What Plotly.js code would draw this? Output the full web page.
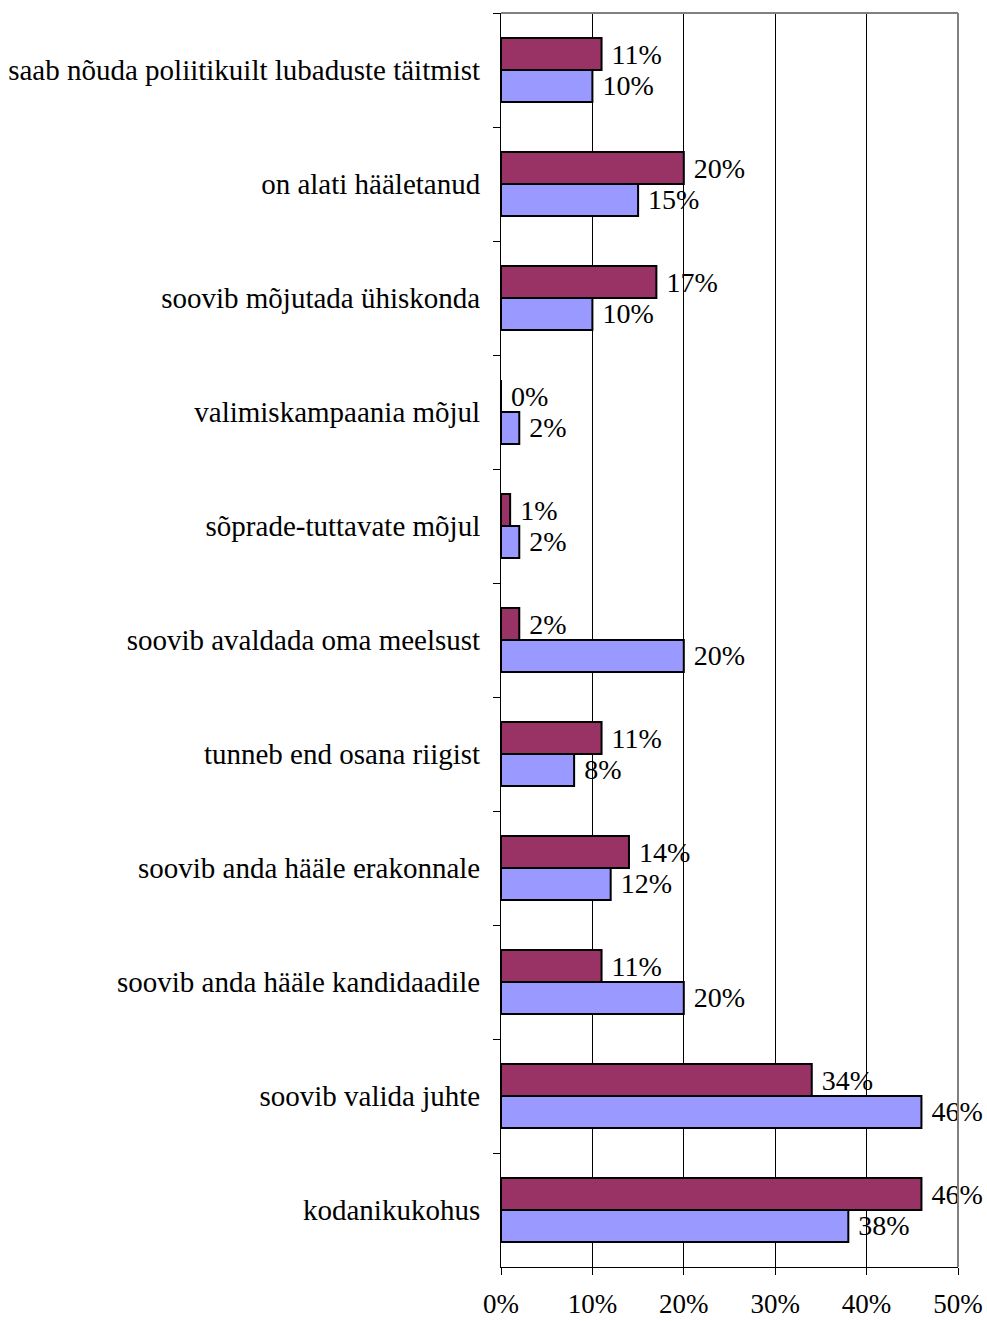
<!DOCTYPE html>
<html>
<head>
<meta charset="utf-8">
<script src="https://cdn.plot.ly/plotly-3.0.1.min.js"></script>
<style>html,body{margin:0;padding:0;background:#fff;}#chart{width:987px;height:1321px;}</style>
</head>
<body>
<div id="chart"></div>
<script>
const categories = [
  "saab nõuda poliitikuilt lubaduste täitmist",
  "on alati hääletanud",
  "soovib mõjutada ühiskonda",
  "valimiskampaania mõjul",
  "sõprade-tuttavate mõjul",
  "soovib avaldada oma meelsust",
  "tunneb end osana riigist",
  "soovib anda hääle erakonnale",
  "soovib anda hääle kandidaadile",
  "soovib valida juhte",
  "kodanikukohus"
];
const seriesA = [11, 20, 17, 0, 1, 2, 11, 14, 11, 34, 46];
const seriesB = [10, 15, 10, 2, 2, 20, 8, 12, 20, 46, 38];
const xTicks = [0, 10, 20, 30, 40, 50];

const FAM = "'Liberation Serif', 'DejaVu Serif', serif";
const font = {family: FAM, size: 28, color: "#000"};
const catFont = {family: FAM, size: 29, color: "#000"};
const tickFontX = {family: FAM, size: 27, color: "#000"};

function barTrace(vals, color) {
  return {
    type: "bar", orientation: "h",
    x: vals, y: categories,
    marker: {color: color, line: {color: "#000", width: 2}},
    text: vals.map(v => "\u00a0" + v + "%"),
    textposition: "outside",
    textfont: font,
    constraintext: "none",
    cliponaxis: false,
    hoverinfo: "skip"
  };
}

const data = [barTrace(seriesA, "#993366"), barTrace(seriesB, "#9999FF")];

const layout = {
  width: 987, height: 1321,
  margin: {l: 501, r: 29, t: 13, b: 54, pad: 0},
  paper_bgcolor: "#fff", plot_bgcolor: "#fff",
  showlegend: false,
  barmode: "group", bargap: 0.44, bargroupgap: 0,
  font: font,
  xaxis: {
    range: [0, 50], tickvals: xTicks, ticktext: xTicks.map(v => v + "%"),
    showgrid: true, gridcolor: "#000", gridwidth: 1,
    zeroline: false, showline: true, linecolor: "#000", linewidth: 1,
    ticks: "outside", ticklen: 7, tickcolor: "#000", tickwidth: 1,
    ticklabelstandoff: 6,
    tickfont: tickFontX, fixedrange: true
  },
  yaxis: {
    type: "category", autorange: "reversed",
    showgrid: false, zeroline: false, showline: true, linecolor: "#000", linewidth: 1,
    ticks: "outside", ticklen: 7, tickcolor: "#000", tickwidth: 1,
    tickson: "boundaries", ticklabelstandoff: 14,
    tickfont: catFont, fixedrange: true
  },
  shapes: [
    {type: "line", xref: "paper", yref: "paper", x0: 0, x1: 1, y0: 1, y1: 1, line: {color: "#808080", width: 2}},
    {type: "line", xref: "paper", yref: "paper", x0: 1, x1: 1, y0: 0, y1: 1, line: {color: "#808080", width: 2}}
  ]
};

Plotly.newPlot("chart", data, layout, {displayModeBar: false, staticPlot: true});
</script>
</body>
</html>
